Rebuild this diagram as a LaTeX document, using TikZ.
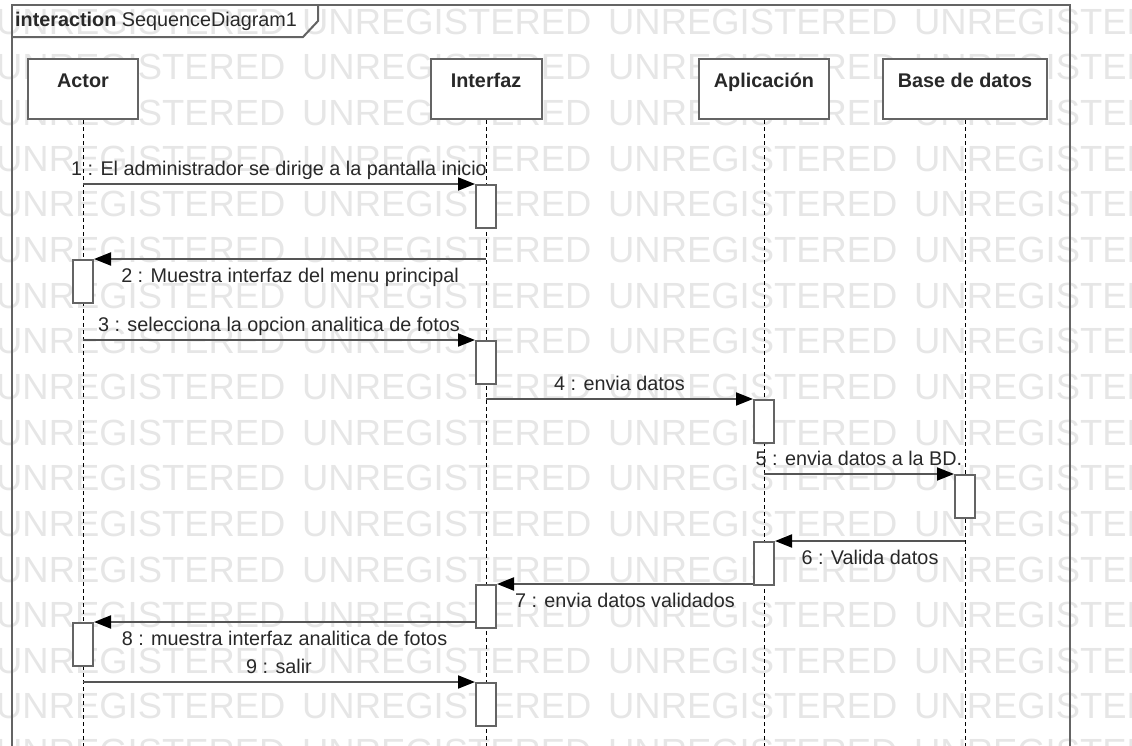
\documentclass[tikz,border=0pt]{standalone}
\usepackage{fontspec}
\setmainfont{Liberation Sans}
\usetikzlibrary{arrows.meta,calc}
\definecolor{wmark}{RGB}{230,230,230}
\definecolor{edge}{RGB}{100,100,100}
\definecolor{msgline}{RGB}{85,85,85}
\definecolor{ink}{RGB}{40,40,40}
\begin{document}
\begin{tikzpicture}[x=1pt,y=-1pt,
  every node/.style={font=\fontsize{19.8}{23}\selectfont, text=ink},
  wm/.style={font=\fontsize{36.4}{40}\selectfont, text=wmark, inner sep=0pt, anchor=west},
  frameline/.style={draw=edge, line width=2pt},
  headbox/.style={draw=edge, line width=2pt, fill=white, minimum width=#1,
    minimum height=60pt, inner sep=0pt, anchor=north},
  headlbl/.style={font=\fontsize{19.8}{23}\selectfont\bfseries, inner sep=0pt,
    text height=14pt, text depth=0pt},
  lifeline/.style={draw=black, line width=1pt, dash pattern=on 4pt off 3pt},
  actbox/.style={draw=edge, line width=2pt, fill=white, minimum width=20pt,
    minimum height=43pt, inner sep=0pt, anchor=north},
  msg/.style={draw=msgline, line width=2pt,
    -{Triangle[length=17pt,width=13pt,color=black]}},
  msglbl/.style={inner sep=0pt, text height=14pt, text depth=4pt},
]
\useasboundingbox (0,0) rectangle (1132,745);
\clip (0,0) rectangle (1132,745);
\coordinate (bottom) at (0,760);

% background watermark rows
\foreach \r in {0,...,16} {
  \foreach \c in {0,...,3} {
    \node[wm] (wm-\r-\c) at ({-4+306*\c},{21.8+45.64*\r}) {UNREGISTERED};
  }
}

% interaction frame and its name tab
\draw[frameline] (11.5,760) -- (11.5,4.5) -- (1069.5,4.5) -- (1069.5,760);
\draw[frameline] (11.5,37) -- (303,37) -- (318,21) -- (318,4.5);
\node[inner sep=0pt, anchor=west] (title) at (15,21.5)
  {\textbf{interaction} SequenceDiagram1};

% lifeline heads
\node[headbox=110pt] (actor) at (83,58) {};
\node[headbox=111pt] (interfaz) at (486,58) {};
\node[headbox=130pt] (app) at (764,58) {};
\node[headbox=164pt] (db) at (965,58) {};
\node[headlbl] (actor-l) at ($(actor.north)+(0,22)$) {Actor};
\node[headlbl] (interfaz-l) at ($(interfaz.north)+(0,22)$) {Interfaz};
\node[headlbl] (app-l) at ($(app.north)+(0,22)$) {Aplicación};
\node[headlbl] (db-l) at ($(db.north)+(0,22)$) {Base de datos};

% lifelines
\draw[lifeline] (actor.south) -- (actor |- bottom);
\draw[lifeline] (interfaz.south) -- (interfaz |- bottom);
\draw[lifeline] (app.south) -- (app |- bottom);
\draw[lifeline] (db.south) -- (db |- bottom);

% activation bars
\node[actbox] (a1) at (486,184) {};
\node[actbox] (a2) at (83,259) {};
\node[actbox] (a3) at (486,340) {};
\node[actbox] (a4) at (764,399) {};
\node[actbox] (a5) at (965,474) {};
\node[actbox] (a6) at (764,541) {};
\node[actbox] (a7) at (486,584) {};
\node[actbox] (a8) at (83,622) {};
\node[actbox] (a9) at (486,682) {};

% messages
\draw[msg] (actor |- a1.north) -- node[msglbl, above=4pt] (m1) {1 : El administrador se dirige a la pantalla inicio} (a1.north west);
\draw[msg] (interfaz |- a2.north) -- node[msglbl, below=8pt] (m2) {2 : Muestra interfaz del menu principal} (a2.north east);
\draw[msg] (actor |- a3.north) -- node[msglbl, above=4pt] (m3) {3 : selecciona la opcion analitica de fotos} (a3.north west);
\draw[msg] (interfaz |- a4.north) -- node[msglbl, above=4pt] (m4) {4 : envia datos} (a4.north west);
\draw[msg] (app |- a5.north) -- node[msglbl, above=4pt] (m5) {5 : envia datos a la BD.} (a5.north west);
\draw[msg] (db |- a6.north) -- node[msglbl, below=8pt] (m6) {6 : Valida datos} (a6.north east);
\draw[msg] (a6.west |- a7.north) -- node[msglbl, below=8pt] (m7) {7 : envia datos validados} (a7.north east);
\draw[msg] (a7.west |- a8.north) -- node[msglbl, below=8pt] (m8) {8 : muestra interfaz analitica de fotos} (a8.north east);
\draw[msg] (actor |- a9.north) -- node[msglbl, above=4pt] (m9) {9 : salir} (a9.north west);
\end{tikzpicture}
\end{document}
